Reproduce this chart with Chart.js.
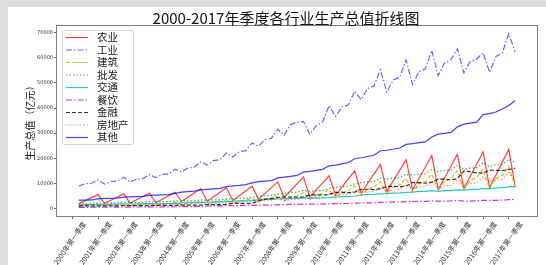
<!DOCTYPE html>
<html>
<head>
<meta charset="utf-8">
<script src="https://cdn.jsdelivr.net/npm/chart.js@4/dist/chart.umd.min.js"></script>
<style>
  html, body { margin: 0; padding: 0; background: #dedede; }
  #wrap { position: relative; width: 546px; height: 265px; }
  canvas { position: absolute; left: 0; top: 0; }
</style>
</head>
<body>
<div id="wrap"><canvas id="chart" width="546" height="265"></canvas></div>
<script>
// tick labels, one per year (first quarter)
const tickLabels = [
    '2000年第一季度', '2001年第一季度', '2002年第一季度', '2003年第一季度',
    '2004年第一季度', '2005年第一季度', '2006年第一季度', '2007年第一季度',
    '2008年第一季度', '2009年第一季度', '2010年第一季度', '2011年第一季度',
    '2012年第一季度', '2013年第一季度', '2014年第一季度', '2015年第一季度',
    '2016年第一季度', '2017年第一季度'
];

const seriesNames = ['农业', '工业', '建筑', '批发', '交通', '餐饮', '金融', '房地产', '其他'];

// quarterly values (亿元), 2000Q1 .. 2017Q1
const agriculture = [1943,3138,4334,5530, 2052,3314,4576,5839, 2150,3473,4796,6119, 2260,3650,5041,6431,
    2784,4497,6210,7923, 2915,4708,6502,8295, 3125,5048,6972,8895, 3722,6012,8302,10592,
    4381,7077,9774,12470, 4579,7397,10216,13034, 5269,8512,11755,14998, 6173,9972,13771,17570,
    6809,10999,15188,19378, 7404,11961,16518,21074, 7583,12250,16916,21583, 7912,12781,17650,22519,
    8277,13371,18465,23558, 8654];

const industry = [8938,9864,10065,11394, 9736,10744,10964,12411, 10606,11705,11944,13521, 12291,13564,13841,15668,
    14602,16115,16444,18615, 17307,19100,19490,22063, 20477,22598,23060,26103, 24796,27365,27923,31609,
    29243,33500,34300,34700, 29500,33000,34500,41000, 36658,40456,41282,46731, 43322,47810,48786,55225,
    46377,51182,52227,59120, 49359,54473,55584,62921, 52900,58000,59300,63600, 54000,58500,59500,62000,
    54300,60500,61900,69600, 62300];

const construction = [884,1325,1463,1850, 949,1424,1572,1987, 1034,1552,1713,2166, 1199,1798,1985,2509,
    1391,2087,2304,2912, 1659,2488,2747,3473, 1985,2978,3288,4157, 2447,3671,4053,5124,
    2999,4498,4967,6279, 3584,5376,5935,7503, 4266,6399,7065,8931, 5111,7666,8465,10701,
    5679,8518,9405,11889, 6544,9815,10838,13700, 7181,10771,11893,15035, 7460,11190,12356,15620,
    7952,11929,13171,16651, 8300];

const wholesale = [1917,1990,2010,2244, 2143,2225,2245,2508, 2349,2440,2460,2749, 2625,2725,2750,3072,
    2927,3040,3065,3425, 3282,3410,3435,3841, 3885,4035,4065,4546, 4920,5110,5150,5758,
    6153,6390,6440,7200, 6816,7080,7130,7977, 8400,8720,8795,9830, 10277,10670,10760,12026,
    11710,12160,12260,13704, 13227,13730,13850,15478, 14670,15230,15360,17167, 15554,16150,16280,18201,
    16753,17390,17540,19605, 18300];

const transport = [1479,1530,1550,1602, 1649,1710,1726,1786, 1799,1865,1883,1948, 1899,1970,1988,2058,
    2233,2315,2337,2419, 2560,2655,2679,2773, 2924,3032,3060,3168, 3504,3633,3667,3796,
    3927,4072,4110,4254, 4014,4162,4202,4349, 4592,4760,4806,4974, 5384,5582,5634,5832,
    5918,6136,6194,6412, 6548,6790,6852,7094, 6840,7092,7158,7410, 7317,7587,7657,7927,
    7934,8227,8303,8595, 8700];

const catering = [474,483,493,523, 533,544,556,589, 587,599,611,648, 643,657,670,710,
    750,766,782,828, 1007,1028,1049,1112, 1150,1174,1198,1270, 1332,1359,1387,1470,
    1588,1621,1654,1753, 1708,1744,1780,1886, 1936,1977,2017,2138, 2202,2247,2293,2431,
    2511,2564,2616,2773, 2759,2816,2874,3046, 2918,2979,3040,3222, 2917,2978,3039,3221,
    3206,3273,3340,3540, 3600];

const finance = [1022,1022,1001,1042, 1089,1089,1067,1110, 1153,1153,1130,1176, 1247,1247,1222,1272,
    1348,1348,1321,1375, 1577,1577,1545,1608, 2025,2025,1984,2065, 3100,3700,4000,4373,
    4578,4578,4487,4670, 5450,5450,5340,5558, 6420,6420,6292,6548, 7670,7670,7516,7823,
    8797,8797,8621,8973, 10298,10298,10092,10504, 11666,11666,11433,11900, 14900,14700,14200,14073,
    15300,15200,15100,15522, 16000];

const realEstate = [913,985,1005,1245, 1037,1120,1145,1415, 1176,1270,1296,1604, 1358,1465,1497,1852,
    1578,1704,1740,2152, 1874,2022,2066,2555, 2281,2462,2516,3111, 3038,3278,3350,4143,
    3243,3500,3574,4422, 4173,4503,4601,5690, 5185,5596,5718,7071, 6197,6687,6833,8450,
    6875,7420,7580,9374, 7917,8545,8729,10796, 8360,9022,9218,11400, 9174,9900,10116,12510,
    10602,11442,11690,14457, 11000];

const other = [3300,3350,3400,3800, 4000,4050,4150,4500, 4600,4700,4800,5200, 5300,5400,5500,6000,
    6500,6700,6900,7400, 7600,7800,8000,8700, 9000,9200,9500,10200, 10700,10900,11100,12200,
    12500,12800,13200,14500, 14800,15200,15600,17000, 17300,17800,18300,19800, 20200,20700,21200,23000,
    23200,23600,24100,25500, 25800,26200,26500,28500, 29600,29900,30300,32500, 33600,34000,34400,37400,
    37800,38400,39600,41000, 42900];

const seriesValues = [agriculture, industry, construction, wholesale, transport, catering, finance, realEstate, other];

// line styles, matplotlib-like
const lineColors = [
    'rgba(255,0,0,0.75)', 'rgba(0,0,255,0.6)', 'rgba(191,191,0,0.85)',
    'rgba(0,128,0,0.7)', 'rgba(0,191,191,0.85)', 'rgba(191,0,191,0.8)',
    'rgba(0,0,0,0.8)', 'rgba(255,0,0,0.45)', 'rgba(0,0,255,0.75)'
];
const lineDashes = [[], [6, 2, 1.5, 2], [4, 2], [1.5, 2], [], [6, 2, 1.5, 2], [4, 2], [1.5, 2], []];

const PLOT = { left: 57, top: 25, right: 537, bottom: 216 };

const datasets = seriesValues.map((vals, i) => ({
    label: seriesNames[i],
    data: vals.map((v, q) => ({ x: q + 1, y: v })),
    borderColor: lineColors[i],
    borderDash: lineDashes[i],
    borderWidth: 1.2,
    pointRadius: 0,
    tension: 0,
    fill: false,
    order: seriesValues.length - i
}));

const backgroundPlugin = {
    id: 'background',
    beforeDraw(chart) {
        const ctx = chart.ctx;
        ctx.save();
        ctx.fillStyle = '#ffffff';
        ctx.fillRect(8, 7, chart.width - 8, chart.height - 7);
        ctx.restore();
    }
};

const framePlugin = {
    id: 'frame',
    afterDraw(chart) {
        const ctx = chart.ctx;
        const a = chart.chartArea;
        ctx.save();
        ctx.strokeStyle = '#808080';
        ctx.lineWidth = 1;
        ctx.strokeRect(Math.round(a.left) - 0.5, Math.round(a.top) + 0.5,
            Math.round(a.right - a.left) + 1, Math.round(a.bottom - a.top));

        // title
        ctx.fillStyle = '#111';
        ctx.font = '15px "Noto Sans CJK SC", sans-serif';
        ctx.textAlign = 'center';
        ctx.textBaseline = 'middle';
        ctx.fillText('2000-2017年季度各行业生产总值折线图', 286, 18);

        // legend box
        ctx.fillStyle = 'rgba(255,255,255,0.85)';
        ctx.strokeStyle = '#d4d4d4';
        ctx.beginPath();
        ctx.roundRect(62.5, 30.5, 71, 114, 2);
        ctx.fill();
        ctx.stroke();
        ctx.font = '10.5px "Noto Sans CJK SC", sans-serif';
        ctx.textAlign = 'left';
        chart.data.datasets.forEach((ds, i) => {
            const y = 37.5 + i * 12.5;
            ctx.strokeStyle = ds.borderColor;
            ctx.lineWidth = 1.2;
            ctx.setLineDash(ds.borderDash);
            ctx.beginPath();
            ctx.moveTo(66, y);
            ctx.lineTo(88, y);
            ctx.stroke();
            ctx.setLineDash([]);
            ctx.fillStyle = '#222';
            ctx.fillText(ds.label, 97, y);
        });
        ctx.restore();
    }
};

new Chart(document.getElementById('chart'), {
    type: 'line',
    data: { datasets: datasets },
    options: {
        responsive: false,
        animation: false,
        devicePixelRatio: 1,
        layout: { padding: { left: 0, top: PLOT.top, right: 546 - PLOT.right, bottom: 0 } },
        plugins: {
            legend: { display: false },
            tooltip: { enabled: false },
            title: { display: false }
        },
        scales: {
            x: {
                type: 'linear',
                min: -2.4,
                max: 72.4,
                afterBuildTicks: axis => { axis.ticks = tickLabels.map((_, i) => ({ value: i * 4 })); },
                afterFit: axis => { axis.height = 265 - PLOT.bottom; },
                border: { display: false },
                grid: { drawOnChartArea: false, tickLength: 3, color: '#666' },
                ticks: {
                    autoSkip: false,
                    minRotation: 55,
                    maxRotation: 55,
                    labelOffset: 12,
                    padding: 1,
                    color: '#333',
                    font: { size: 7, family: '"Noto Sans CJK SC", sans-serif' },
                    callback: v => tickLabels[v / 4]
                }
            },
            y: {
                min: -2982,
                max: 73056,
                afterBuildTicks: axis => {
                    axis.ticks = [0, 10000, 20000, 30000, 40000, 50000, 60000, 70000].map(v => ({ value: v }));
                },
                afterFit: axis => { axis.width = PLOT.left; },
                border: { display: false },
                grid: { drawOnChartArea: false, tickLength: 3, color: '#666' },
                ticks: {
                    padding: 1,
                    color: '#333',
                    font: { size: 5, family: '"DejaVu Sans", sans-serif' },
                    callback: v => String(v)
                },
                title: {
                    display: true,
                    text: '生产总值（亿元）',
                    color: '#222',
                    font: { size: 10, family: '"Noto Sans CJK SC", sans-serif' },
                    padding: { top: 24, bottom: 0 }
                }
            }
        }
    },
    plugins: [backgroundPlugin, framePlugin]
});
</script>
</body>
</html>
